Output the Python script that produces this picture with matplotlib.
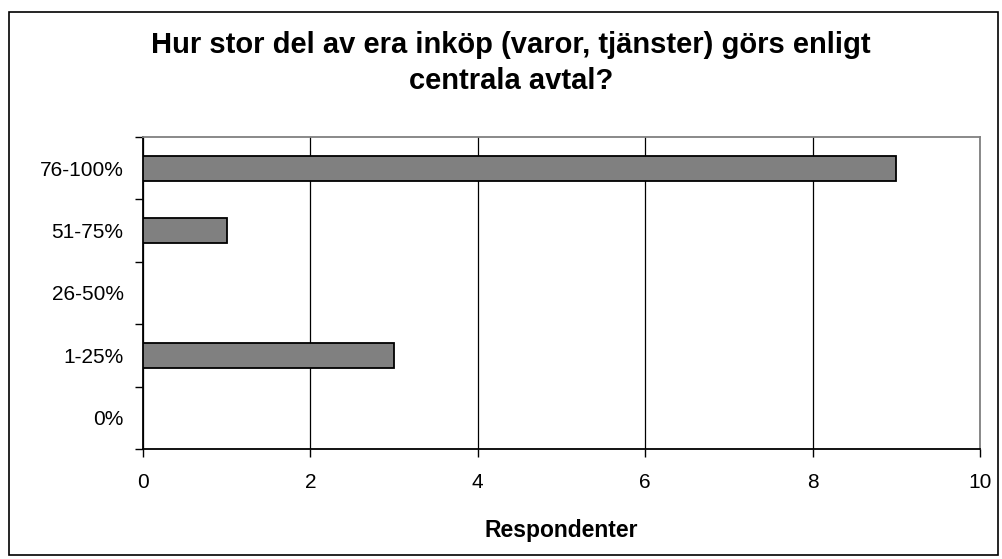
import matplotlib
matplotlib.use("Agg")
import matplotlib.pyplot as plt
from matplotlib.patches import Rectangle

categories = ["0%", "1-25%", "26-50%", "51-75%", "76-100%"]
values = [0, 3, 0, 1, 9]
x_ticks = [0, 2, 4, 6, 8, 10]
title_lines = ["Hur stor del av era inköp (varor, tjänster) görs enligt", "centrala avtal?"]
xlabel = "Respondenter"

plt.rcParams['font.family'] = ['Liberation Sans', 'DejaVu Sans']

W, H = 1003, 559
fig = plt.figure(figsize=(W / 100, H / 100), dpi=100)
fig.patches.append(Rectangle((9 / W, 1 - 555 / H), (998 - 9) / W, (555 - 12) / H,
                             transform=fig.transFigure, fill=False, edgecolor='black',
                             linewidth=1.2, zorder=0))

L, R, T, B = 143, 980, 137, 449
ax = fig.add_axes([L / W, 1 - B / H, (R - L) / W, (B - T) / H])

ypos = list(range(len(categories)))
ax.barh(ypos, values, height=0.4, color='#808080', edgecolor='black', linewidth=1.3, zorder=3)

ax.set_xlim(0, 10)
ax.set_ylim(-0.5, len(categories) - 0.5)
ax.set_xticks(x_ticks)
ax.set_xticklabels([str(t) for t in x_ticks], fontsize=15)
ax.set_yticks(ypos)
ax.set_yticklabels(categories, fontsize=15)
ax.tick_params(axis='y', length=0, pad=14)
ax.set_yticks([i - 0.5 for i in range(len(categories) + 1)], minor=True)
ax.tick_params(axis='y', which='minor', length=6, width=1, direction='out')
ax.tick_params(axis='x', length=6, width=1, direction='out', pad=11)

ax.grid(axis='x', color='black', linewidth=0.9, zorder=1)
for s in ['top', 'right']:
    ax.spines[s].set_color('#808080')
    ax.spines[s].set_linewidth(1.3)
for s in ['left', 'bottom']:
    ax.spines[s].set_color('black')
    ax.spines[s].set_linewidth(1.3)

ax.set_xlabel(xlabel, fontsize=16.5, fontweight='bold', labelpad=20)
for line, base in zip(title_lines, [53, 89]):
    fig.text(511 / W, 1 - base / H, line, ha='center', va='baseline', fontsize=21,
             fontweight='bold')

fig.savefig("out.png", dpi=100)
